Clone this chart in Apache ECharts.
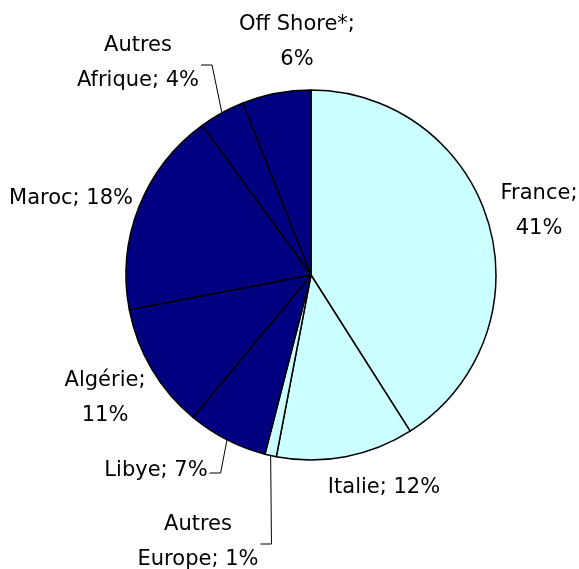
<!DOCTYPE html>
<html>
<head>
<meta charset="utf-8">
<script src="https://cdn.jsdelivr.net/npm/echarts@6/dist/echarts.min.js"></script>
<style>
  html, body { margin: 0; padding: 0; background: #fff; }
  #chart { width: 579px; height: 569px; }
</style>
</head>
<body>
<div id="chart"></div>
<script>
  // données
  var names = ['France', 'Italie', 'Autres\nEurope', 'Libye', 'Algérie', 'Maroc', 'Autres\nAfrique', 'Off Shore*'];
  var values = [41, 12, 1, 7, 11, 18, 4, 6];
  var europe = ['France', 'Italie', 'Autres\nEurope'];

  // libellés coupés après le point-virgule
  var breakAfterSemi = ['France', 'Algérie', 'Off Shore*'];
  // centre des libellés (mise en page)
  var labelPos = [[539, 211], [384, 488], [198, 542], [156, 471], [105, 398], [71, 199], [138, 63], [297, 42]];
  var withLine = ['Autres\nEurope', 'Libye', 'Autres\nAfrique'];

  var myChart = echarts.init(document.getElementById('chart'));

  var data = names.map(function (n, i) {
    return {
      name: n,
      value: values[i],
      itemStyle: { color: europe.indexOf(n) >= 0 ? '#CCFFFF' : '#000080' },
      labelLine: { show: withLine.indexOf(n) >= 0 }
    };
  });

  myChart.setOption({
    animation: false,
    series: [{
      type: 'pie',
      center: [311, 275],
      radius: 185,
      startAngle: 90,
      clockwise: true,
      avoidLabelOverlap: false,
      data: data,
      itemStyle: { borderColor: '#000', borderWidth: 1.5 },
      label: {
        show: true,
        position: 'outside',
        fontFamily: 'DejaVu Sans',
        fontSize: 21,
        lineHeight: 35,
        color: '#000',
        align: 'center',
        formatter: function (p) {
          var sep = breakAfterSemi.indexOf(p.name) >= 0 ? ';\n' : '; ';
          return p.name + sep + p.value + '%';
        }
      },
      labelLine: {
        lineStyle: { color: '#000', width: 1 },
        length: 10,
        length2: 10
      },
      labelLayout: function (params) {
        var pos = labelPos[params.dataIndex];
        var res = { x: pos[0], y: pos[1], align: 'center', verticalAlign: 'middle' };
        var pts = params.labelLinePoints;
        if (pts && withLine.indexOf(names[params.dataIndex]) >= 0) {
          // trait en coude : bord du secteur -> coude -> droite du libellé
          var right = pos[0] + params.labelRect.width / 2;
          res.labelLinePoints = [pts[0], [right + 13, pos[1] + 2], [right + 2, pos[1] + 2]];
        }
        return res;
      }
    }]
  });
</script>
</body>
</html>
